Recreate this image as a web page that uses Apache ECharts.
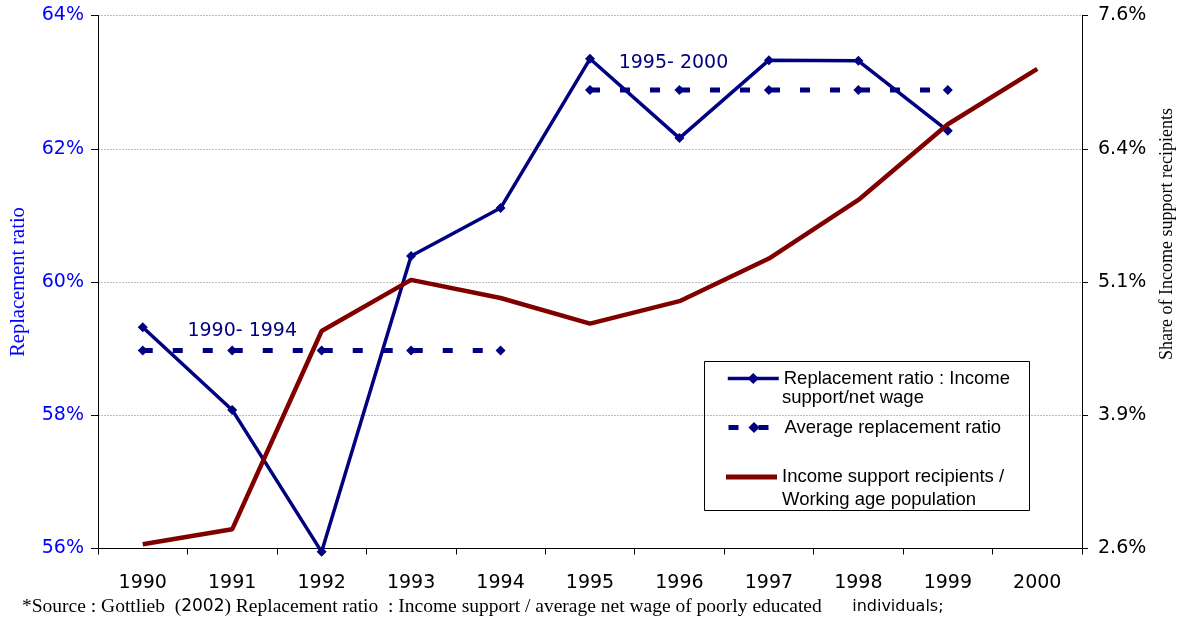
<!DOCTYPE html>
<html><head><meta charset="utf-8">
<script src="https://cdn.jsdelivr.net/npm/echarts@6/dist/echarts.min.js"></script>
<style>html,body{margin:0;padding:0;background:#fff}#chart{width:1193px;height:623px}</style>
</head><body><div id="chart"></div>
<script>
// ---- data ----
const years = ['1990','1991','1992','1993','1994','1995','1996','1997','1998','1999','2000'];
const replacementRatio = [59.32, 58.08, 55.95, 60.39, 61.11, 63.35, 62.16, 63.33, 63.32, 62.27, null];
const avgRatio1990to1994 = [58.97, 58.97, 58.97, 58.97, 58.97, null, null, null, null, null, null];
const avgRatio1995to2000 = [null, null, null, null, null, 62.88, 62.88, 62.88, 62.88, 62.88, null];
const recipientsShare = [2.64, 2.78, 4.64, 5.12, 4.95, 4.71, 4.92, 5.32, 5.87, 6.58, 7.10];
const leftTickValues = [56, 58, 60, 62, 64];
const leftTickLabels = ['56%', '58%', '60%', '62%', '64%'];
const rightTickValues = [2.6, 3.85, 5.1, 6.35, 7.6];
const rightTickLabels = ['2.6%', '3.9%', '5.1%', '6.4%', '7.6%'];
const periodLabels = ['1990- 1994', '1995- 2000'];
const seriesNames = ['Replacement ratio : Income support/net wage', 'Average replacement ratio', 'Income support recipients / Working age population'];
const legendFirstLines = ['Replacement ratio : Income', 'Average replacement ratio', 'Income support recipients /'];
const legendSecondLines = ['support/net wage', '', 'Working age population'];
const leftAxisName = 'Replacement ratio';
const rightAxisName = 'Share of Income support recipients';

// ---- styles ----
const NAVY = '#000080', DARKRED = '#800000', BLUE = '#0000ff';
const SANS = 'DejaVu Sans', SERIF = 'Liberation Serif', ARIAL = 'Liberation Sans';

function withLabel(arr, idx, text, offset, dist) {
  return arr.map((v, i) => i === idx ? {
    value: v,
    label: { show: true, formatter: text, position: 'top', distance: dist, offset: offset,
      color: NAVY, fontFamily: SANS, fontSize: 19 }
  } : v);
}

const chart = echarts.init(document.getElementById('chart'), null, { renderer: 'canvas' });
const legendBase = {
  orient: 'vertical', left: 726, itemWidth: 51, itemHeight: 14, padding: 0,
  textStyle: { color: '#000', fontFamily: ARIAL, fontSize: 18.5 },
  formatter: n => legendFirstLines[seriesNames.indexOf(n)],
  selectedMode: false
};
chart.setOption({
  animation: false,
  backgroundColor: '#fff',
  grid: { left: 95, right: 111, top: 15.5, bottom: 74.5 },
  xAxis: {
    type: 'category', data: years, boundaryGap: true,
    axisLine: { onZero: false, lineStyle: { color: '#000', width: 1 } },
    axisTick: { show: true, length: 6, lineStyle: { color: '#000' } },
    axisLabel: { color: '#000', fontFamily: SANS, fontSize: 19, margin: 25 },
    splitLine: { show: false }
  },
  yAxis: [{
    type: 'value', min: 56, max: 64, interval: 2, position: 'left',
    name: leftAxisName, nameLocation: 'middle', nameGap: 69,
    nameTextStyle: { color: BLUE, fontFamily: SERIF, fontSize: 20.5 },
    axisLine: { show: true, lineStyle: { color: '#000' } },
    axisTick: { show: true, length: 7, lineStyle: { color: '#000' } },
    axisLabel: { color: BLUE, fontFamily: SANS, fontSize: 19, margin: 14,
      formatter: v => leftTickLabels[leftTickValues.indexOf(v)] },
    splitLine: { show: true, lineStyle: { color: '#bdbdbd', type: [2, 1], width: 1 } }
  }, {
    type: 'value', min: 2.6, max: 7.6, position: 'right',
    axisLine: { show: true, lineStyle: { color: '#000' } },
    axisTick: { show: true, length: 6, customValues: rightTickValues, lineStyle: { color: '#000' } },
    axisLabel: { color: '#000', fontFamily: SANS, fontSize: 19, margin: 16, customValues: rightTickValues,
      formatter: v => { let k = 0, d = 1e9; rightTickValues.forEach((t, i) => { if (Math.abs(t - v) < d) { d = Math.abs(t - v); k = i; } }); return rightTickLabels[k]; } },
    splitLine: { show: false }
  }],
  legend: [
    Object.assign({}, legendBase, { top: 369, data: [seriesNames[0]], lineStyle: { width: 3.5 } }),
    Object.assign({}, legendBase, { top: 418, data: [seriesNames[1]], lineStyle: { width: 5 } }),
    Object.assign({}, legendBase, { top: 467.5, itemHeight: 5, data: [{ name: seriesNames[2], icon: 'rect' }] })
  ],
  series: [{
    name: seriesNames[0], type: 'line', yAxisIndex: 0, data: replacementRatio, clip: false,
    symbol: 'diamond', symbolSize: 10, showAllSymbol: true,
    lineStyle: { color: NAVY, width: 3.5 }, itemStyle: { color: NAVY }, z: 3
  }, {
    name: seriesNames[1], type: 'line', yAxisIndex: 0,
    data: withLabel(avgRatio1990to1994, 1, periodLabels[0], [10, 0], 5),
    symbol: 'diamond', symbolSize: 10,
    lineStyle: { color: NAVY, width: 5, type: [10, 20] }, itemStyle: { color: NAVY }, z: 3
  }, {
    name: seriesNames[1], type: 'line', yAxisIndex: 0,
    data: withLabel(avgRatio1995to2000, 6, periodLabels[1], [-6, 0], 13),
    symbol: 'diamond', symbolSize: 10,
    lineStyle: { color: NAVY, width: 5, type: [10, 20] }, itemStyle: { color: NAVY }, z: 3
  }, {
    name: seriesNames[2], type: 'line', yAxisIndex: 1, data: recipientsShare,
    symbol: 'none', lineStyle: { color: DARKRED, width: 4.5 }, itemStyle: { color: DARKRED }, z: 4
  }],
  graphic: [
    { type: 'rect', shape: { x: 704.5, y: 361.5, width: 325, height: 149 },
      style: { fill: 'rgba(0,0,0,0)', stroke: '#000', lineWidth: 1 }, z: 1 },
    { type: 'text', x: 782, y: 398, style: { text: legendSecondLines[0], fill: '#000', font: '18.5px "Liberation Sans"', verticalAlign: 'middle' } },
    { type: 'text', x: 782, y: 500, style: { text: legendSecondLines[2], fill: '#000', font: '18.5px "Liberation Sans"', verticalAlign: 'middle' } },
    { type: 'text', x: 1167, y: 234, rotation: Math.PI / 2,
      style: { text: rightAxisName, fill: '#000', font: '18px "Liberation Serif"', align: 'center', verticalAlign: 'middle' } },
    { type: 'text', x: 22, y: 607, style: {
      text: '{s|*Source : Gottlieb  (}{n|2002}{s|) Replacement ratio  : Income support / average net wage of poorly educated}{i|      individuals;}',
      verticalAlign: 'middle',
      rich: {
        s: { fontFamily: SERIF, fontSize: 19.5, fill: '#000' },
        n: { fontFamily: SANS, fontSize: 17, fill: '#000' },
        i: { fontFamily: SANS, fontSize: 16, fill: '#000' }
      } } }
  ]
});
</script></body></html>
